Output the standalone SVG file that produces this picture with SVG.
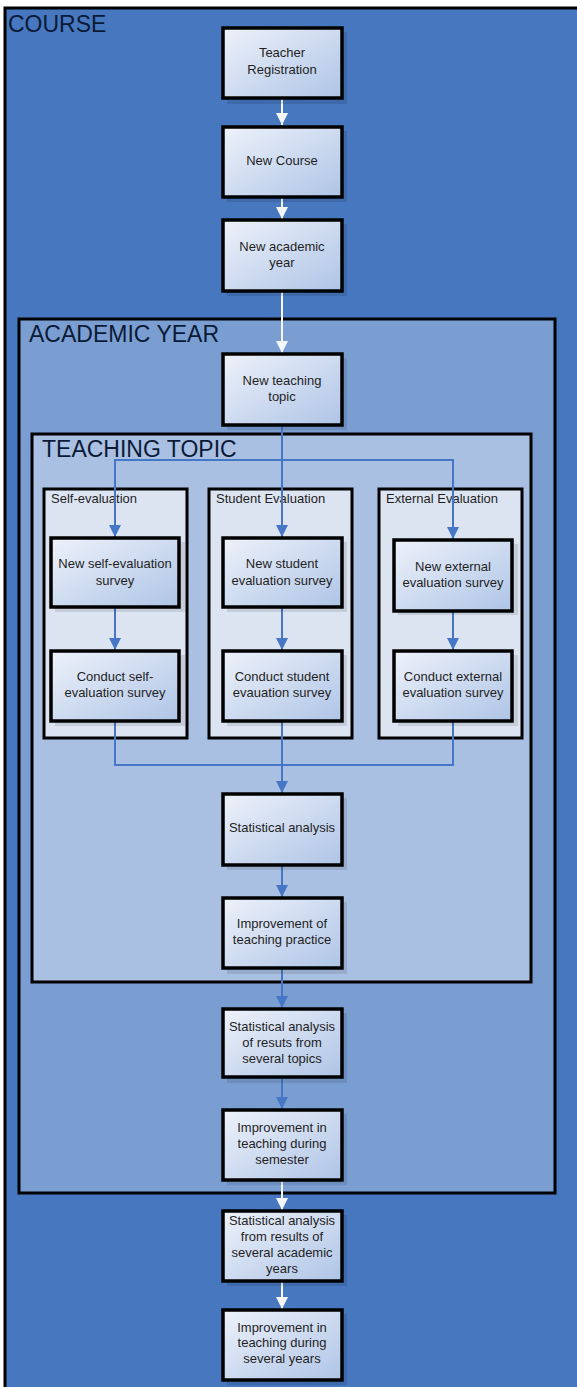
<svg xmlns="http://www.w3.org/2000/svg" width="577" height="1387" viewBox="0 0 577 1387">
<style>
.cont{stroke:#000;stroke-width:3}
.box{fill:url(#g);stroke:#000;stroke-width:3.5}
.sh{fill:#000;opacity:0.10}
.t{font-family:"Liberation Sans",Arial,sans-serif;font-size:13px;fill:#1f1f1f;text-anchor:middle}
.lane{font-family:"Liberation Sans",Arial,sans-serif;font-size:13px;fill:#1f1f1f}
.big{font-family:"Liberation Sans",Arial,sans-serif;font-size:23px;fill:#0b1a36}
.w{fill:none;stroke:#F4F6FA;stroke-width:2}
.b{fill:none;stroke:#4677C6;stroke-width:2}
</style>
<defs>
<linearGradient id="g" x1="0" y1="0" x2="1" y2="1">
<stop offset="0" stop-color="#EEF2FA"/>
<stop offset="1" stop-color="#AEC4E6"/>
</linearGradient>
<marker id="aw" markerUnits="userSpaceOnUse" markerWidth="12" markerHeight="12" viewBox="0 0 12 12" refX="12" refY="6" orient="auto">
<path d="M0,0 L12,6 L0,12 Z" fill="#F4F6FA"/>
</marker>
<marker id="ab" markerUnits="userSpaceOnUse" markerWidth="12" markerHeight="12" viewBox="0 0 12 12" refX="12" refY="6" orient="auto">
<path d="M0,0 L12,6 L0,12 Z" fill="#4677C6"/>
</marker>
</defs>
<rect width="577" height="1387" fill="#fff"/>
<g id="course">
<rect class="cont" x="5" y="8" width="590" height="1400" fill="#4677BF"/>
<text class="big" x="8" y="32">COURSE</text>
</g>
<g id="academic-year">
<rect class="cont" x="19" y="319" width="536" height="874" fill="#7A9ED2"/>
<text class="big" x="29" y="342">ACADEMIC YEAR</text>
</g>
<g id="teaching-topic">
<rect class="cont" x="32" y="434" width="499" height="548" fill="#A9C0E2"/>
<text class="big" x="42" y="457">TEACHING TOPIC</text>
</g>
<g id="lane-self">
<rect class="cont" x="44" y="489" width="143" height="249" fill="#DCE4F2"/>
<text class="lane" x="51" y="503">Self-evaluation</text>
</g>
<g id="lane-student">
<rect class="cont" x="209" y="489" width="143" height="249" fill="#DCE4F2"/>
<text class="lane" x="216" y="503">Student Evaluation</text>
</g>
<g id="lane-external">
<rect class="cont" x="379" y="489" width="143" height="249" fill="#DCE4F2"/>
<text class="lane" x="386" y="503">External Evaluation</text>
</g>
<g id="connectors">
<path class="w" d="M282,99 V125" marker-end="url(#aw)"/>
<path class="w" d="M282,197 V219" marker-end="url(#aw)"/>
<path class="w" d="M282,292 V353" marker-end="url(#aw)"/>
<path class="b" d="M282,426 V537" marker-end="url(#ab)"/>
<path class="b" d="M282,460 H115 V537" marker-end="url(#ab)"/>
<path class="b" d="M282,460 H453 V539" marker-end="url(#ab)"/>
<path class="b" d="M115,608 V650" marker-end="url(#ab)"/>
<path class="b" d="M282,608 V650" marker-end="url(#ab)"/>
<path class="b" d="M453,612 V650" marker-end="url(#ab)"/>
<path class="b" d="M115,722 V765 H282"/>
<path class="b" d="M453,722 V765 H282"/>
<path class="b" d="M282,722 V793" marker-end="url(#ab)"/>
<path class="b" d="M282,866 V897" marker-end="url(#ab)"/>
<path class="b" d="M282,969 V1008" marker-end="url(#ab)"/>
<path class="b" d="M282,1078 V1109" marker-end="url(#ab)"/>
<path class="w" d="M282,1181 V1210" marker-end="url(#aw)"/>
<path class="w" d="M282,1282 V1309" marker-end="url(#aw)"/>
</g>
<g id="teacher-registration">
<rect class="sh" x="227" y="32" width="120" height="72"/>
<rect class="box" x="223" y="28" width="119" height="70"/>
<text class="t" x="282" y="57">Teacher</text>
<text class="t" x="282" y="74">Registration</text>
</g>
<g id="new-course">
<rect class="sh" x="227" y="131" width="120" height="71"/>
<rect class="box" x="223" y="127" width="119" height="70"/>
<text class="t" x="282" y="165">New Course</text>
</g>
<g id="new-academic-year">
<rect class="sh" x="227" y="224" width="120" height="72"/>
<rect class="box" x="223" y="220" width="119" height="71"/>
<text class="t" x="282" y="251">New academic</text>
<text class="t" x="282" y="267">year</text>
</g>
<g id="new-teaching-topic">
<rect class="sh" x="227" y="358" width="120" height="72"/>
<rect class="box" x="223" y="354" width="119" height="71"/>
<text class="t" x="282" y="385">New teaching</text>
<text class="t" x="282" y="401">topic</text>
</g>
<g id="new-self-evaluation-survey">
<rect class="sh" x="55" y="542" width="130" height="70"/>
<rect class="box" x="51" y="538" width="128" height="69"/>
<text class="t" x="115" y="568">New self-evaluation</text>
<text class="t" x="115" y="585">survey</text>
</g>
<g id="new-student-evaluation-survey">
<rect class="sh" x="227" y="542" width="120" height="70"/>
<rect class="box" x="223" y="538" width="119" height="69"/>
<text class="t" x="282" y="568">New student</text>
<text class="t" x="282" y="585">evaluation survey</text>
</g>
<g id="new-external-evaluation-survey">
<rect class="sh" x="398" y="544" width="120" height="71"/>
<rect class="box" x="394" y="540" width="118" height="71"/>
<text class="t" x="453" y="571">New external</text>
<text class="t" x="453" y="587">evaluation survey</text>
</g>
<g id="conduct-self-evaluation-survey">
<rect class="sh" x="55" y="655" width="130" height="71"/>
<rect class="box" x="51" y="651" width="128" height="70"/>
<text class="t" x="115" y="681">Conduct self-</text>
<text class="t" x="115" y="697">evaluation survey</text>
</g>
<g id="conduct-student-evaluation-survey">
<rect class="sh" x="227" y="655" width="120" height="71"/>
<rect class="box" x="223" y="651" width="119" height="70"/>
<text class="t" x="282" y="681">Conduct student</text>
<text class="t" x="282" y="697">evauation survey</text>
</g>
<g id="conduct-external-evaluation-survey">
<rect class="sh" x="398" y="655" width="120" height="71"/>
<rect class="box" x="394" y="651" width="118" height="70"/>
<text class="t" x="453" y="681">Conduct external</text>
<text class="t" x="453" y="697">evaluation survey</text>
</g>
<g id="statistical-analysis">
<rect class="sh" x="227" y="798" width="120" height="72"/>
<rect class="box" x="223" y="794" width="119" height="71"/>
<text class="t" x="282" y="832">Statistical analysis</text>
</g>
<g id="improvement-of-teaching-practice">
<rect class="sh" x="227" y="902" width="120" height="72"/>
<rect class="box" x="223" y="898" width="119" height="70"/>
<text class="t" x="282" y="928">Improvement of</text>
<text class="t" x="282" y="944">teaching practice</text>
</g>
<g id="statistical-analysis-several-topics">
<rect class="sh" x="227" y="1013" width="120" height="70"/>
<rect class="box" x="223" y="1009" width="119" height="68"/>
<text class="t" x="282" y="1031">Statistical analysis</text>
<text class="t" x="282" y="1047">of resuts from</text>
<text class="t" x="282" y="1063">several topics</text>
</g>
<g id="improvement-during-semester">
<rect class="sh" x="227" y="1114" width="120" height="71"/>
<rect class="box" x="223" y="1110" width="119" height="70"/>
<text class="t" x="282" y="1132">Improvement in</text>
<text class="t" x="282" y="1148">teaching during</text>
<text class="t" x="282" y="1164">semester</text>
</g>
<g id="statistical-analysis-several-years">
<rect class="sh" x="227" y="1215" width="120" height="71"/>
<rect class="box" x="223" y="1211" width="119" height="70"/>
<text class="t" x="282" y="1225">Statistical analysis</text>
<text class="t" x="282" y="1241">from results of</text>
<text class="t" x="282" y="1257">several academic</text>
<text class="t" x="282" y="1273">years</text>
</g>
<g id="improvement-several-years">
<rect class="sh" x="227" y="1314" width="120" height="71"/>
<rect class="box" x="223" y="1310" width="119" height="70"/>
<text class="t" x="282" y="1332">Improvement in</text>
<text class="t" x="282" y="1347">teaching during</text>
<text class="t" x="282" y="1363">several years</text>
</g>
</svg>
